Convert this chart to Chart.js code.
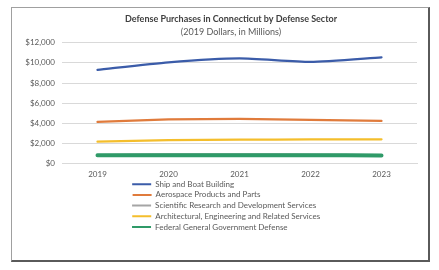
<!DOCTYPE html>
<html>
<head>
<meta charset="utf-8">
<script src="https://cdn.jsdelivr.net/npm/chart.js@4.4.1/dist/chart.umd.min.js"></script>
<style>
  html, body { margin: 0; padding: 0; background: #fff; }
  #wrap { position: relative; width: 439px; height: 270px; }
  #frame {
    position: absolute; left: 11px; top: 7px; width: 416px; height: 252px;
    border-left: 1px solid #a0a0a0; border-top: 1px solid #a0a0a0;
    border-right: 2px solid #5a5a5a; border-bottom: 2px solid #5a5a5a;
    pointer-events: none;
  }
</style>
</head>
<body>
<div id="wrap">
  <canvas id="chart"></canvas>
  <div id="frame"></div>
</div>
<script>
// Years on the x axis
const years = ['2019', '2020', '2021', '2022', '2023'];

// Defense purchases by sector, millions of 2019 dollars
const shipBoat = [9300, 10050, 10450, 10100, 10550];
const aerospace = [4150, 4400, 4450, 4350, 4250];
const scientific = [880, 950, 950, 920, 880];
const architectural = [2200, 2350, 2400, 2420, 2430];
const federalDefense = [850, 860, 860, 850, 840];

// Y axis ticks
const yTicks = [0, 2000, 4000, 6000, 8000, 10000, 12000];

const fontFamily = 'Lato, "Liberation Sans", sans-serif';
const legendFontSize = 8;

// pad legend labels so each item gets its own row, left aligned
const measureCtx = document.createElement('canvas').getContext('2d');
measureCtx.font = legendFontSize + 'px ' + fontFamily;
function padLabel(text, target) {
    let s = text;
    while (measureCtx.measureText(s).width < target) s += '\u00A0';
    return s;
}

const ctx = document.getElementById('chart').getContext('2d');
new Chart(ctx, {
    type: 'line',
    data: {
        labels: years,
        datasets: [
            { label: 'Ship and Boat Building', data: shipBoat, borderColor: '#3b5ca9', backgroundColor: '#3b5ca9', borderWidth: 2.25 },
            { label: 'Aerospace Products and Parts', data: aerospace, borderColor: '#e07b3c', backgroundColor: '#e07b3c', borderWidth: 2.25 },
            { label: 'Scientific Research and Development Services', data: scientific, borderColor: '#a5a5a5', backgroundColor: '#a5a5a5', borderWidth: 2.25 },
            { label: 'Architectural, Engineering and Related Services', data: architectural, borderColor: '#f4be2c', backgroundColor: '#f4be2c', borderWidth: 2.25 },
            { label: 'Federal General Government Defense', data: federalDefense, borderColor: '#2f9a68', backgroundColor: '#2f9a68', borderWidth: 4, order: -1 }
        ]
    },
    options: {
        responsive: true,
        maintainAspectRatio: false,
        animation: false,
        elements: {
            point: { radius: 0 },
            line: { tension: 0.2, fill: false, borderCapStyle: 'round' }
        },
        layout: { padding: { left: 23, right: 0, top: 6, bottom: 29 } },
        plugins: {
            title: {
                display: true,
                text: 'Defense Purchases in Connecticut by Defense Sector',
                color: '#404040',
                font: { family: fontFamily, size: 9, weight: 'bold' },
                padding: { top: 8, bottom: 1 }
            },
            subtitle: {
                display: true,
                text: '(2019 Dollars, in Millions)',
                color: '#595959',
                font: { family: fontFamily, size: 9 },
                padding: { top: 1, bottom: 5 }
            },
            legend: {
                position: 'bottom',
                fullSize: false,
                labels: {
                    color: '#595959',
                    font: { family: fontFamily, size: legendFontSize },
                    boxWidth: 19,
                    boxHeight: 2,
                    padding: 2.7,
                    sort: (a, b) => a.datasetIndex - b.datasetIndex,
                    generateLabels: (chart) => {
                        const items = Chart.defaults.plugins.legend.labels.generateLabels(chart);
                        items.forEach(it => {
                            it.text = padLabel(it.text, 213 - 19 - legendFontSize / 2);
                            it.lineWidth = 0;
                        });
                        return items;
                    }
                }
            },
            tooltip: { enabled: false }
        },
        scales: {
            x: {
                offset: true,
                grid: { display: false, drawTicks: false },
                border: { display: true, color: '#d9d9d9' },
                ticks: { color: '#595959', font: { family: fontFamily, size: 8 }, padding: 6 },
                afterFit: (scale) => { scale.height -= 8; }
            },
            y: {
                min: 0,
                max: 12000,
                afterBuildTicks: (scale) => { scale.ticks = yTicks.map(v => ({ value: v })); },
                afterFit: (scale) => { scale.width = 39; },
                grid: { color: '#d9d9d9', drawTicks: false },
                border: { display: false },
                ticks: {
                    color: '#595959',
                    font: { family: fontFamily, size: 8 },
                    padding: 7,
                    callback: (v) => '$' + Number(v).toLocaleString('en-US')
                }
            },
            y2: {
                position: 'right',
                display: true,
                grid: { display: false, drawTicks: false },
                border: { display: false },
                ticks: { display: false },
                afterFit: (scale) => { scale.width = 22; }
            }
        }
    }
});
</script>
</body>
</html>
